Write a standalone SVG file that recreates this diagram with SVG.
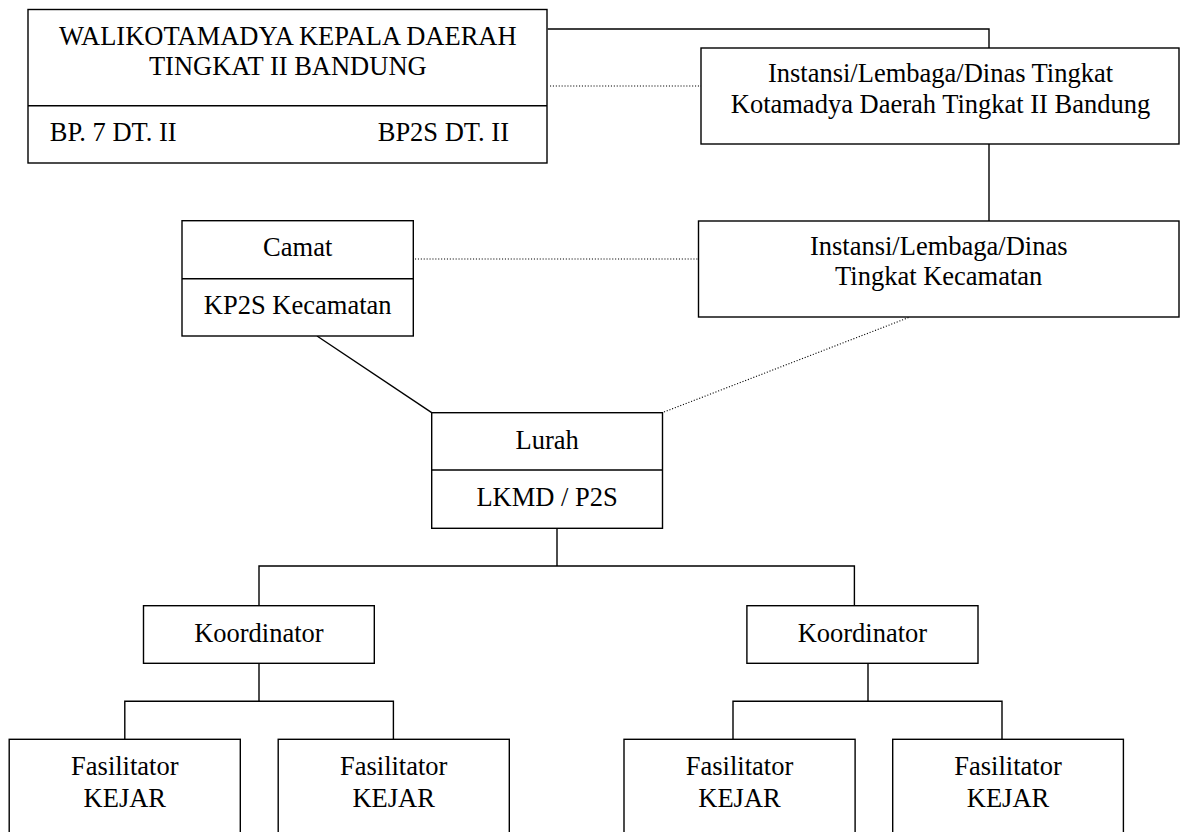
<svg xmlns="http://www.w3.org/2000/svg" width="1180" height="832" viewBox="0 0 1180 832">
<style>
  .box { fill: #fff; stroke: #000; stroke-width: 1.4; }
  .div { stroke: #000; stroke-width: 1.4; fill: none; }
  .solid { stroke: #000; stroke-width: 1.4; fill: none; }
  .dot { stroke: #000; stroke-width: 1.1; fill: none; stroke-dasharray: 1.1 1.8; }
  text { font-family: "Liberation Serif", "Times New Roman", serif; font-size: 26.5px; fill: #000; }
  .c { text-anchor: middle; }
</style>
<rect width="1180" height="832" fill="#fff"/>
<g id="connectors">
  <polyline class="solid" points="547.7,29 989,29 989,48"/>
  <line class="dot" x1="550" y1="86" x2="701" y2="86"/>
  <line class="solid" x1="989" y1="144" x2="989" y2="221"/>
  <line class="dot" x1="415" y1="259" x2="698" y2="259"/>
  <line class="solid" x1="317" y1="336" x2="431.7" y2="412.7"/>
  <line class="dot" x1="664" y1="412" x2="910" y2="317"/>
  <polyline class="solid" points="557,528.3 557,566"/>
  <polyline class="solid" points="259,605.7 259,566 854.4,566 854.4,605.7"/>
  <polyline class="solid" points="259,663.3 259,701.3"/>
  <polyline class="solid" points="124.8,739.3 124.8,701.3 393.4,701.3 393.4,739.3"/>
  <polyline class="solid" points="868,663.3 868,701.3"/>
  <polyline class="solid" points="733,739.3 733,701.3 1002,701.3 1002,739.3"/>
</g>
<g id="walikota">
  <rect class="box" x="28" y="9.5" width="519" height="153.5"/>
  <line class="div" x1="28" y1="105.7" x2="547" y2="105.7"/>
  <text class="c" x="287.8" y="45">WALIKOTAMADYA KEPALA DAERAH</text>
  <text class="c" x="287.8" y="75">TINGKAT II BANDUNG</text>
  <text x="49.8" y="141">BP. 7 DT. II</text>
  <text x="509" y="141" text-anchor="end">BP2S DT. II</text>
</g>
<g id="instansi-kota">
  <rect class="box" x="701" y="48" width="478" height="96"/>
  <text class="c" x="940.5" y="82">Instansi/Lembaga/Dinas Tingkat</text>
  <text class="c" x="940.5" y="113">Kotamadya Daerah Tingkat II Bandung</text>
</g>
<g id="camat">
  <rect class="box" x="182" y="220.7" width="231.3" height="115.3"/>
  <line class="div" x1="182" y1="278.7" x2="413.3" y2="278.7"/>
  <text class="c" x="297.7" y="255.7">Camat</text>
  <text class="c" x="297.7" y="314">KP2S Kecamatan</text>
</g>
<g id="instansi-kecamatan">
  <rect class="box" x="698.5" y="221" width="480.5" height="96"/>
  <text class="c" x="938.7" y="255">Instansi/Lembaga/Dinas</text>
  <text class="c" x="938.7" y="285">Tingkat Kecamatan</text>
</g>
<g id="lurah">
  <rect class="box" x="431.7" y="412.7" width="230.8" height="115.6"/>
  <line class="div" x1="431.7" y1="470" x2="662.5" y2="470"/>
  <text class="c" x="547.1" y="449">Lurah</text>
  <text class="c" x="547.1" y="506">LKMD / P2S</text>
</g>
<g id="koordinator-1">
  <rect class="box" x="143.5" y="605.7" width="230.8" height="57.6"/>
  <text class="c" x="258.9" y="641.7">Koordinator</text>
</g>
<g id="koordinator-2">
  <rect class="box" x="746.9" y="605.7" width="231.1" height="57.6"/>
  <text class="c" x="862.4" y="641.7">Koordinator</text>
</g>
<g id="fasilitator-1">
  <rect class="box" x="9.2" y="739.3" width="231.1" height="110"/>
  <text class="c" x="124.8" y="775">Fasilitator</text>
  <text class="c" x="124.8" y="806.7">KEJAR</text>
</g>
<g id="fasilitator-2">
  <rect class="box" x="278.2" y="739.3" width="231.1" height="110"/>
  <text class="c" x="393.7" y="775">Fasilitator</text>
  <text class="c" x="393.7" y="806.7">KEJAR</text>
</g>
<g id="fasilitator-3">
  <rect class="box" x="624" y="739.3" width="231.1" height="110"/>
  <text class="c" x="739.5" y="775">Fasilitator</text>
  <text class="c" x="739.5" y="806.7">KEJAR</text>
</g>
<g id="fasilitator-4">
  <rect class="box" x="892.7" y="739.3" width="230.7" height="110"/>
  <text class="c" x="1008" y="775">Fasilitator</text>
  <text class="c" x="1008" y="806.7">KEJAR</text>
</g>
</svg>
